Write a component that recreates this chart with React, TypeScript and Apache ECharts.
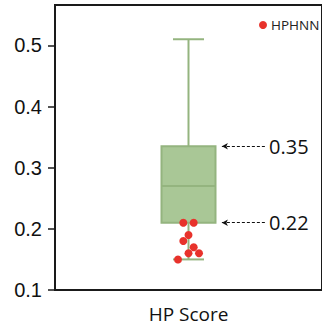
import React, { useEffect, useRef } from "react";
import * as echarts from "echarts";

const categories = ["HP Score"];
// [min, Q1, median, Q3, max]
const boxStats = [[0.15, 0.21, 0.27, 0.335, 0.51]];
const seriesName = "HPHNN";
const pointValues = [0.21, 0.21, 0.19, 0.18, 0.17, 0.16, 0.16, 0.15];
const pointJitter = [-5.3, 5.3, 0, -5.3, 5.3, 0, 10.7, -10.7];
const yTicks = [0.1, 0.2, 0.3, 0.4, 0.5];
const annotationValues = [0.335, 0.21];
const annotationLabels = ["0.35", "0.22"];

export default function App() {
  const ref = useRef<HTMLDivElement>(null);
  useEffect(() => {
    if (!ref.current) return;
    const chart = echarts.init(ref.current, null, { renderer: "svg" });
    const green = "#94b47f";
    const option: any = {
      animation: false,
      grid: {
        left: 55,
        top: 5,
        right: -5,
        bottom: 36,
        show: true,
        borderColor: "#1a1a1a",
        borderWidth: 2,
        backgroundColor: "transparent",
      },
      legend: {
        data: [seriesName],
        left: 255,
        top: 16,
        padding: [2, 0, 2, 4],
        icon: "circle",
        itemWidth: 8,
        itemHeight: 8,
        itemGap: 4,
        textStyle: { fontFamily: "Open Sans", fontSize: 13.5, color: "#222", padding: [0, 0, 0, -1] },
      },
      xAxis: [
        {
          type: "category",
          data: categories,
          axisLine: { show: true, lineStyle: { color: "#1a1a1a", width: 2 } },
          axisTick: { show: false },
          axisLabel: {
            fontFamily: "Open Sans",
            fontSize: 19,
            color: "#111",
            margin: 14,
          },
          splitLine: { show: false },
        },
        {
          type: "value",
          min: -136,
          max: 136,
          show: false,
          splitLine: { show: false },
        },
      ],
      yAxis: {
        type: "value",
        min: 0.1,
        max: 0.566,
        interval: 0.1,
        axisLine: { show: true, onZero: false, lineStyle: { color: "#1a1a1a", width: 2 } },
        axisTick: {
          show: true,
          length: 7,
          lineStyle: { color: "#1a1a1a", width: 1.5 },
          customValues: yTicks,
        },
        axisLabel: {
          fontFamily: "Liberation Sans",
          fontSize: 20,
          color: "#111",
          margin: 13,
          customValues: yTicks,
          formatter: (v: number) => v.toFixed(1),
        },
        splitLine: { show: false },
      },
      series: [
        {
          type: "custom",
          xAxisIndex: 0,
          z: 2,
          data: boxStats.map((s, i) => [i, ...s]),
          renderItem: (params: any, api: any) => {
            const x = api.value(0);
            const pMin = api.coord([x, api.value(1)]);
            const pQ1 = api.coord([x, api.value(2)]);
            const pMed = api.coord([x, api.value(3)]);
            const pQ3 = api.coord([x, api.value(4)]);
            const pMax = api.coord([x, api.value(5)]);
            const cx = pMed[0];
            const half = 27;
            const cap = 15.5;
            const lineStyle = { stroke: green, lineWidth: 2 };
            return {
              type: "group",
              children: [
                { type: "line", shape: { x1: cx, y1: pMax[1], x2: cx, y2: pQ3[1] }, style: lineStyle },
                { type: "line", shape: { x1: cx, y1: pQ1[1], x2: cx, y2: pMin[1] }, style: lineStyle },
                { type: "line", shape: { x1: cx - cap, y1: pMax[1], x2: cx + cap, y2: pMax[1] }, style: lineStyle },
                { type: "line", shape: { x1: cx - cap, y1: pMin[1], x2: cx + cap, y2: pMin[1] }, style: lineStyle },
                {
                  type: "rect",
                  shape: { x: cx - half, y: pQ3[1], width: half * 2, height: pQ1[1] - pQ3[1] },
                  style: { fill: "#a9c796", stroke: green, lineWidth: 2 },
                },
                { type: "line", shape: { x1: cx - half, y1: pMed[1], x2: cx + half, y2: pMed[1] }, style: lineStyle },
              ],
            };
          },
        },
        {
          name: seriesName,
          type: "scatter",
          xAxisIndex: 1,
          z: 5,
          symbolSize: 8,
          itemStyle: { color: "#e8322b", opacity: 1 },
          data: pointValues.map((v, i) => [pointJitter[i], v]),
          markLine: {
            silent: true,
            symbol: ["arrow", "none"],
            symbolSize: [5, 6],
            lineStyle: { color: "#111", type: [3, 2], width: 1 },
            label: {
              show: true,
              position: "end",
              distance: 3,
              fontFamily: "Open Sans",
              fontSize: 20,
              color: "#111",
            },
            data: annotationValues.map((v, i) => [
              { coord: [34, v], label: { formatter: annotationLabels[i] } },
              { coord: [79, v] },
            ]),
          },
        },
      ],
    };
    chart.setOption(option);
    return () => chart.dispose();
  }, []);
  return (
    <div
      ref={ref}
      style={{ position: "absolute", left: 0, top: 0, width: 322, height: 326 }}
    />
  );
}
